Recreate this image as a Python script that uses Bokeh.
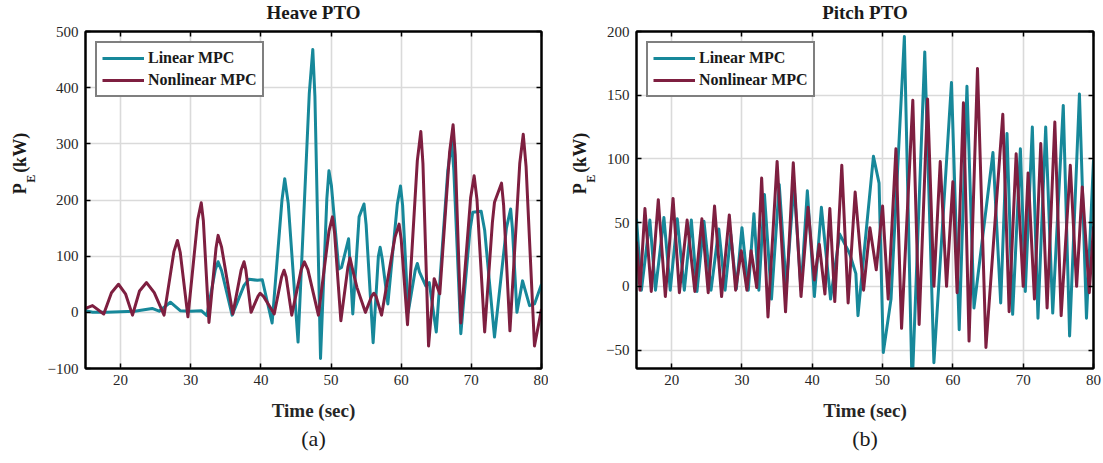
from bokeh.plotting import figure
from bokeh.models import Label, LinearAxis, FixedTicker, Range1d, Title
from bokeh.layouts import row, column
from bokeh.embed import file_html
from bokeh.resources import INLINE

# ---------------- data ----------------
series_names = ["Linear MPC", "Nonlinear MPC"]
panel_titles = ["Heave PTO", "Pitch PTO"]
panel_tags = ["(a)", "(b)"]
x_label = "Time (sec)"
x_ticks = [20, 30, 40, 50, 60, 70, 80]
heave_y_ticks = [-100, 0, 100, 200, 300, 400, 500]
pitch_y_ticks = [-50, 0, 50, 100, 150, 200]

heave_linear_t = [15.0, 16.0, 18.0, 22.0, 24.5, 25.5, 27.1, 28.5, 30.0, 31.5,
                  32.3, 33.5, 33.9, 34.4, 35.9, 37.6, 38.3, 39.5, 40.2, 41.6,
                  43.0, 43.4, 43.9, 45.3, 46.9, 47.4, 47.7, 48.5, 49.4, 49.7,
                  50.05, 51.1, 51.5, 52.5, 53.1, 54.0, 54.7, 55.0, 56.0, 56.75,
                  57.0, 57.3, 58.1, 59.45, 59.9, 60.2, 61.0, 62.0, 62.3, 62.6,
                  63.5, 64.0, 65.0, 66.65, 67.2, 67.5, 68.5, 69.8, 70.2, 71.4,
                  71.9, 73.3, 75.0, 75.6, 75.85, 76.5, 77.3, 78.3, 79.0, 80.0]
heave_linear_v = [3, 0, 0, 2, 7, 2, 18, 3, 2, 3,
                  -6, 76, 90, 74, -5, 48, 59, 57, 58, -19,
                  199, 238, 194, -53, 390, 468, 385, -82, 202, 252,
                  226, 77, 80, 131, -3, 170, 193, 156, -54, 100,
                  116, 95, 15, 193, 225, 191, 0, 75, 87, 72,
                  47, 53, -35, 253, 304, 253, -38, 146, 178, 180,
                  146, -44, 150, 184, 150, 0, 56, 12, 15, 50]

heave_nonlin_t = [15.0, 16.0, 17.6, 18.7, 19.7, 20.7, 21.7, 22.7, 23.7, 24.8,
                  26.2, 27.6, 28.1, 28.5, 29.6, 31.0, 31.5, 31.8, 32.6, 33.6,
                  33.9, 34.4, 36.0, 37.2, 37.6, 37.85, 38.6, 39.6, 39.9, 40.4,
                  41.9, 42.95, 43.3, 43.6, 44.4, 45.75, 46.2, 46.7, 48.2, 49.7,
                  50.2, 50.5, 51.4, 52.4, 52.7, 53.0, 53.7, 54.9, 55.8, 56.1,
                  56.4, 57.2, 59.1, 59.7, 60.0, 60.9, 62.3, 62.8, 63.1, 63.9,
                  64.7, 65.5, 66.9, 67.4, 67.7, 68.5, 69.9, 70.4, 70.8, 71.9,
                  73.0, 73.3, 74.3, 74.6, 75.5, 76.9, 77.4, 77.8, 79.0, 80.0]
heave_nonlin_v = [7, 12, -3, 35, 50, 33, -5, 38, 53, 35,
                  -5, 108, 128, 107, -8, 165, 195, 163, -18, 114,
                  137, 116, -3, 76, 90, 76, 0, 29, 34, 28,
                  -3, 63, 75, 63, -5, 76, 90, 76, -5, 144,
                  170, 142, -15, 80, 97, 80, 44, 0, 29, 34,
                  29, -5, 133, 157, 130, -22, 270, 322, 265, -60,
                  60, 33, 285, 334, 281, -19, 204, 243, 201, -35,
                  160, 196, 230, 191, -33, 265, 317, 260, -60, 6]

pitch_linear_t = [15.0, 15.7, 16.9, 17.7, 18.9, 19.8, 20.8, 21.8, 22.8, 23.6,
                  24.6, 25.6, 26.7, 27.6, 28.4, 29.2, 30.0, 30.9, 31.7, 32.4,
                  33.2, 34.2, 35.3, 36.3, 37.4, 38.4, 39.3, 40.3, 41.3, 42.6,
                  43.9, 45.3, 46.2, 46.5, 48.7, 49.5, 50.1, 51.2, 53.1, 54.2,
                  56.0, 57.3, 59.8, 60.9, 62.0, 63.0, 65.7, 66.8, 67.7, 68.5,
                  69.6, 70.3, 71.3, 72.1, 73.2, 74.2, 75.7, 76.6, 78.0, 79.0,
                  80.0]
pitch_linear_v = [53, -3, 52, -3, 54, -3, 53, -3, 52, -4,
                  51, -3, 45, -3, 41, -2, 46, -3, 57, -3,
                  72, -10, 80, -1, 80, -3, 75, -8, 62, -10,
                  41, 26, 10, -23, 102, 81, -52, -10, 196, -80,
                  184, -60, 160, -34, 157, -17, 105, -13, 120, -22,
                  108, -4, 125, -25, 125, -21, 142, -39, 151, -25,
                  99]

pitch_nonlin_t = [15.0, 15.5, 16.2, 17.1, 18.1, 19.1, 20.2, 21.1, 22.2, 23.3,
                  24.3, 25.2, 26.1, 27.1, 28.2, 29.1, 29.9, 30.7, 31.3, 32.1,
                  32.8, 33.7, 35.0, 36.2, 37.3, 38.4, 39.4, 40.3, 41.0, 41.8,
                  42.5, 43.2, 44.2, 45.1, 46.1, 47.3, 48.2, 49.1, 50.0, 50.8,
                  51.9, 52.7, 54.3, 55.2, 56.4, 57.3, 58.2, 59.1, 60.0, 60.6,
                  61.5, 62.3, 63.5, 64.7, 67.1, 68.0, 69.0, 70.0, 70.7, 71.6,
                  72.5, 73.4, 74.5, 75.4, 76.7, 77.6, 78.4, 79.4, 80.0]
pitch_nonlin_v = [35, -3, 61, -4, 68, -8, 69, -5, 52, -4,
                  53, -5, 63, -8, 56, -3, 28, -3, 28, -1,
                  85, -24, 98, -20, 97, -8, 62, 5, 33, -6,
                  61, -12, 95, -13, 74, -3, 46, 13, 63, -10,
                  108, -33, 146, -30, 147, 0, 98, 0, 82, -5,
                  144, -43, 171, -48, 135, -20, 104, 0, 89, -10,
                  112, -17, 129, -23, 95, 0, 78, -5, 47]

# ---------------- styling ----------------
TEAL = "#17889a"
MAROON = "#7e1f40"
SERIF = "Liberation Serif"
PAGE_H = 463
HEAD_H = 22                 # strip holding the panel titles
BODY_H = PAGE_H - HEAD_H
FRAME_TOP = 31              # frame top edge, in page pixels
TEXT = "#1a1a1a"


def blank_fig(width, height):
    return figure(width=width, height=height, x_range=Range1d(0, width),
                  y_range=Range1d(0, height), x_axis_type=None,
                  y_axis_type=None, output_backend="svg",
                  toolbar_location=None, min_border=0,
                  outline_line_color=None, background_fill_color="white",
                  border_fill_color="white")


def title_strip(width, x_center, text):
    t = blank_fig(width, HEAD_H)
    t.add_layout(Label(x=x_center, y=HEAD_H - 11.5, text=text,
                       text_align="center", text_baseline="middle",
                       text_font=SERIF, text_font_size="19px",
                       text_font_style="bold", text_color=TEXT))
    return t


def ylabel_strip(width, x_main):
    """Narrow figure holding the rotated 'P_E (kW)' label."""
    s = blank_fig(width, BODY_H)
    common = dict(angle=90, angle_units="deg", text_align="left",
                  text_baseline="middle", text_font=SERIF,
                  text_font_style="bold", text_color=TEXT)
    s.add_layout(Label(x=x_main, y=PAGE_H - 235, text="P",
                       text_font_size="18px", **common))
    s.add_layout(Label(x=x_main + 11, y=PAGE_H - 220, text="E",
                       text_font_size="12px", **common))
    s.add_layout(Label(x=x_main, y=PAGE_H - 207, text="(kW)",
                       text_font_size="18px", **common))
    return s


def make_panel(tag, y_range, y_ticks, lin_t, lin_v, non_t, non_v,
               width, border_left, border_right):
    p = figure(width=width, height=BODY_H, x_range=Range1d(15, 80),
               y_range=Range1d(*y_range), output_backend="svg",
               toolbar_location=None, min_border_left=border_left,
               min_border_right=border_right,
               min_border_top=FRAME_TOP - HEAD_H,
               min_border_bottom=95, background_fill_color="white",
               border_fill_color="white")
    p.outline_line_color = "black"
    p.outline_line_width = 2

    p.xaxis.ticker = FixedTicker(ticks=x_ticks)
    p.yaxis.ticker = FixedTicker(ticks=y_ticks)
    p.xgrid.ticker = FixedTicker(ticks=x_ticks)
    p.ygrid.ticker = FixedTicker(ticks=y_ticks)
    for g in (p.xgrid, p.ygrid):
        g.grid_line_color = "#dadada"
        g.grid_line_width = 1.6

    for ax in (p.xaxis, p.yaxis):
        ax.axis_line_color = "black"
        ax.axis_line_width = 2
        ax.major_tick_in = 5
        ax.major_tick_out = 0
        ax.major_tick_line_width = 1.5
        ax.minor_tick_line_color = None
        ax.major_label_text_font = SERIF
        ax.major_label_text_font_size = "15px"
        ax.major_label_text_color = "#262626"
    p.xaxis.major_label_standoff = 6
    p.yaxis.major_label_standoff = 7
    p.xaxis.axis_label = x_label
    p.xaxis.axis_label_text_font = SERIF
    p.xaxis.axis_label_text_font_size = "19px"
    p.xaxis.axis_label_text_font_style = "bold"
    p.xaxis.axis_label_text_color = "#262626"
    p.xaxis.axis_label_standoff = 12

    # mirrored (unlabelled) tick marks on the top and right edges
    top = LinearAxis(ticker=FixedTicker(ticks=[], minor_ticks=x_ticks),
                     minor_tick_in=5, minor_tick_out=0,
                     minor_tick_line_width=1.5, axis_line_width=2)
    right = LinearAxis(ticker=FixedTicker(ticks=[], minor_ticks=y_ticks),
                       minor_tick_in=5, minor_tick_out=0,
                       minor_tick_line_width=1.5, axis_line_width=2)
    p.add_layout(top, "above")
    p.add_layout(right, "right")

    p.line(lin_t, lin_v, color=TEAL, line_width=3, line_join="round",
           legend_label=series_names[0])
    p.line(non_t, non_v, color=MAROON, line_width=3, line_join="round",
           legend_label=series_names[1])

    lg = p.legend[0]
    lg.location = "top_left"
    lg.margin = 10
    lg.padding = 5
    lg.spacing = 2
    lg.glyph_width = 42
    lg.glyph_height = 20
    lg.label_height = 20
    lg.label_standoff = 4
    lg.label_text_font = SERIF
    lg.label_text_font_size = "16px"
    lg.label_text_font_style = "bold"
    lg.label_text_color = TEXT
    lg.border_line_color = "black"
    lg.border_line_width = 2
    lg.background_fill_alpha = 1.0

    p.add_layout(Title(text=tag, align="center", text_font=SERIF,
                       text_font_size="22px", text_font_style="normal",
                       text_color=TEXT, standoff=0), "below")
    return p


t1 = title_strip(548, 313, panel_titles[0])
t2 = title_strip(555, 316.5, panel_titles[1])

s1 = ylabel_strip(36, 19)
p1 = make_panel(panel_tags[0], (-100, 500), heave_y_ticks,
                heave_linear_t, heave_linear_v, heave_nonlin_t, heave_nonlin_v,
                width=512, border_left=49, border_right=7)
s2 = ylabel_strip(48, 31)
p2 = make_panel(panel_tags[1], (-64.5, 200), pitch_y_ticks,
                pitch_linear_t, pitch_linear_v, pitch_nonlin_t, pitch_nonlin_v,
                width=507, border_left=40, border_right=10)

layout = column(row(t1, t2), row(s1, p1, s2, p2))
open("out.html", "w").write(file_html(layout, INLINE))
